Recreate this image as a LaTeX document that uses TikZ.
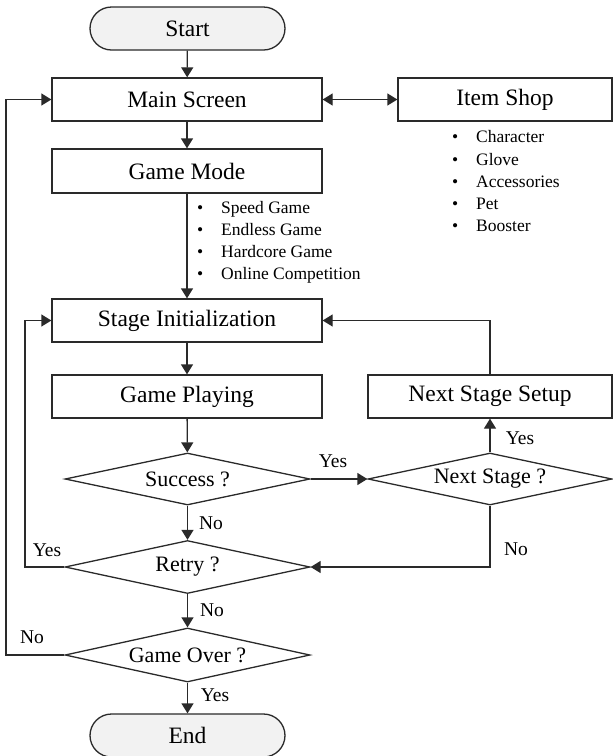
\documentclass[tikz,border=0pt]{standalone}
\usepackage{fontspec}
\setmainfont{Liberation Serif}
\usetikzlibrary{shapes.geometric,shapes.misc,arrows.meta}
\definecolor{termfill}{HTML}{F2F2F2}
\definecolor{lc}{HTML}{2A2A2A}
\begin{document}
\begin{tikzpicture}[x=1pt,y=-1pt,
  line/.style={draw=lc, line width=1.3pt},
  arr/.style={line, -{Triangle[length=10pt,width=12pt]}},
  darr/.style={line, {Triangle[length=10pt,width=12pt]}-{Triangle[length=10pt,width=12pt]}},
  box/.style={draw=lc, line width=1.3pt, rectangle, minimum height=43pt, inner sep=0pt, font=\fontsize{23.5}{27}\selectfont},
  term/.style={draw=lc, line width=1.3pt, rounded rectangle, fill=termfill, minimum width=195pt, minimum height=43pt, inner sep=0pt, font=\fontsize{23.5}{27}\selectfont},
  dec/.style={draw=lc, line width=1.3pt, diamond, aspect=4.7, inner sep=0pt, minimum width=245pt, minimum height=52pt, font=\fontsize{22}{26}\selectfont},
  lab/.style={inner sep=0pt, font=\fontsize{19.5}{22}\selectfont},
  item/.style={anchor=mid west, inner sep=0pt, font=\fontsize{17.5}{20}\selectfont},
]
\useasboundingbox (0,0) rectangle (613,756);

% nodes
\node[term] (start) at (187.5,28.5) {Start};
\node[box, minimum width=270pt] (main) at (187,99.5) {Main Screen};
\node[box, minimum width=214pt] (shop) at (505,99.5) {Item Shop};
\node[box, minimum width=270pt, minimum height=44pt] (mode) at (187,171) {Game Mode};
\node[box, minimum width=270pt] (init) at (187,320.5) {Stage Initialization};
\node[box, minimum width=270pt] (play) at (187,396.5) {Game Playing};
\node[box, minimum width=244pt] (nss) at (490,396.5) {Next Stage Setup};
\node[dec] (succ) at (187.5,479) {Success ?};
\node[dec, minimum width=244pt] (nst) at (490,479) {Next Stage ?};
\node[dec, minimum height=53pt] (retry) at (187.5,567) {Retry ?};
\node[dec, minimum height=54pt] (over) at (187.5,655) {Game Over ?};
\node[term] (end) at (187.5,735.5) {End};

% item shop list
\node[item] (i1) at (452,140) {\makebox[24pt][l]{•}Character};
\node[item] (i2) at (452,163) {\makebox[24pt][l]{•}Glove};
\node[item] (i3) at (452,185) {\makebox[24pt][l]{•}Accessories};
\node[item] (i4) at (452,207) {\makebox[24pt][l]{•}Pet};
\node[item] (i5) at (452,229) {\makebox[24pt][l]{•}Booster};

% game mode list
\node[item] (m1) at (197,211) {\makebox[24pt][l]{•}Speed Game};
\node[item] (m2) at (197,233) {\makebox[24pt][l]{•}Endless Game};
\node[item] (m3) at (197,255) {\makebox[24pt][l]{•}Hardcore Game};
\node[item] (m4) at (197,277) {\makebox[24pt][l]{•}Online Competition};

% helper coordinates
\coordinate (lx1) at (6,655);
\coordinate (lx2) at (25,567);

% connectors
\draw[arr] (start) -- (main);
\draw[darr] (main) -- (shop);
\draw[arr] (main) -- (mode);
\draw[arr] (mode) -- (init);
\draw[arr] (init) -- (play);
\draw[arr] (play) -- (succ);
\draw[arr] (succ.east) -- (nst.west);
\draw[arr] (nst.north) -- (nss.south);
\draw[arr] (nss.north) |- (init.east);
\draw[arr] (succ.south) -- (retry.north);
\draw[arr] (nst.south) |- (retry.east);
\draw[arr] (retry.west) -- (lx2) |- (init.west);
\draw[arr] (retry.south) -- (over.north);
\draw[arr] (over.west) -- (lx1) |- (main.west);
\draw[arr] (over.south) -- (end.north);

% labels
\node[lab] (ly1) at (333,461) {Yes};
\node[lab] (ly2) at (520,438) {Yes};
\node[lab] (ln1) at (211,523) {No};
\node[lab] (ln2) at (516,549) {No};
\node[lab] (ly3) at (47,550) {Yes};
\node[lab] (ln3) at (212,610) {No};
\node[lab] (ln4) at (32,637) {No};
\node[lab] (ly4) at (215,695) {Yes};
\end{tikzpicture}
\end{document}
